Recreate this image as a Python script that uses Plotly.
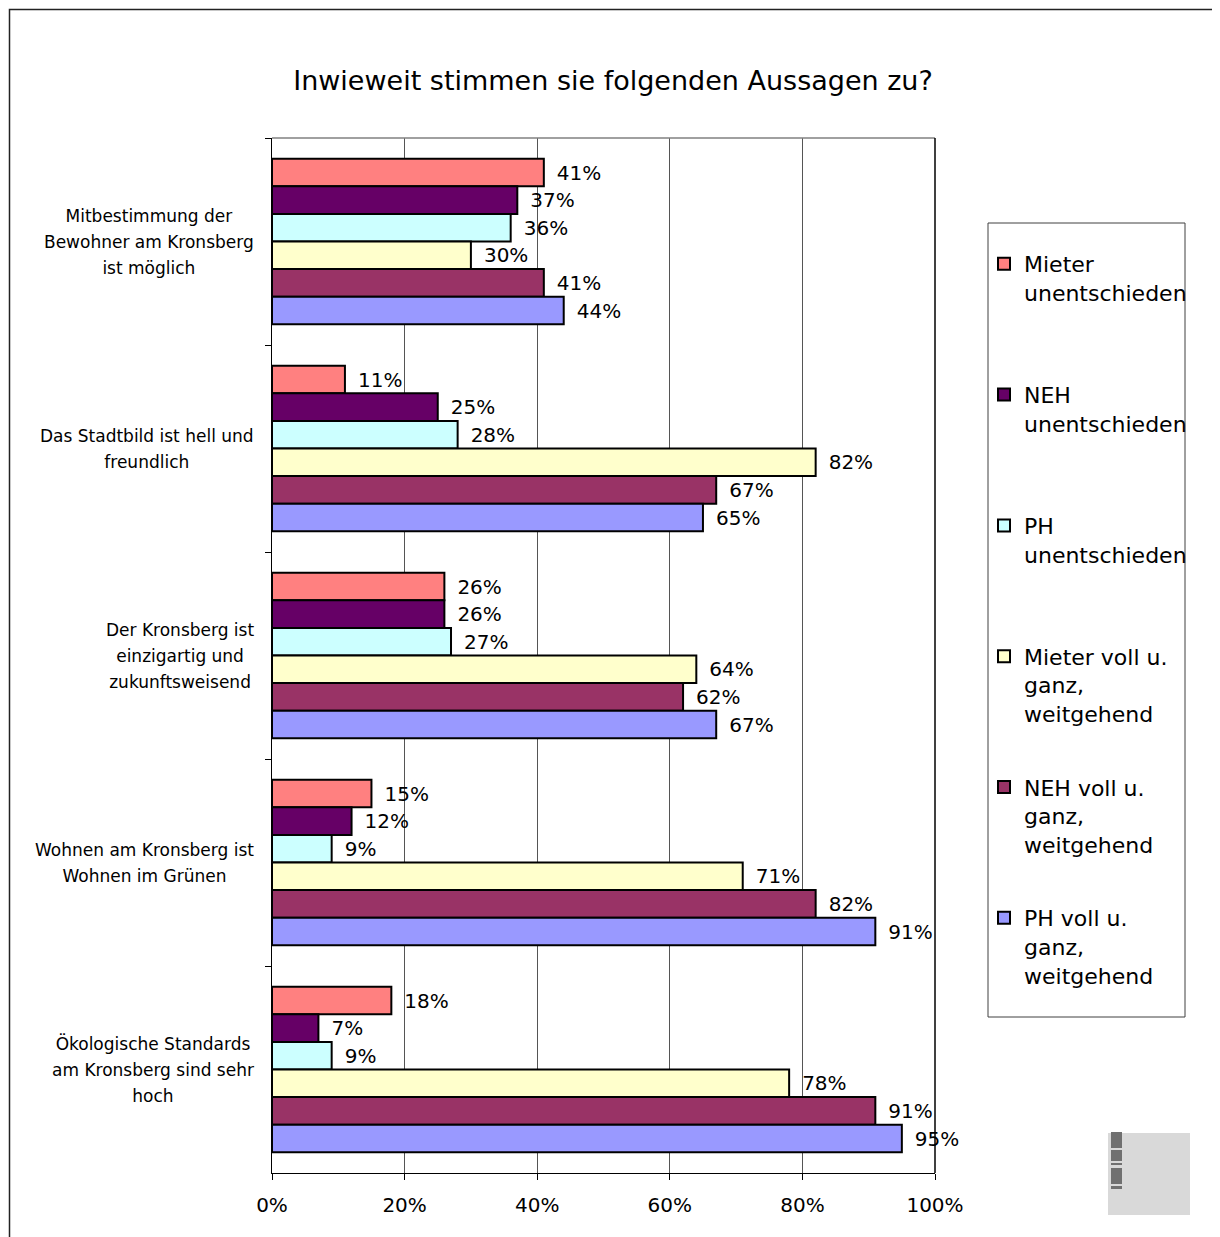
import plotly.graph_objects as go

# ---------------- data ----------------
categories = [
    "Mitbestimmung der<br>Bewohner am Kronsberg<br>ist möglich",
    "Das Stadtbild ist hell und<br>freundlich",
    "Der Kronsberg ist<br>einzigartig und<br>zukunftsweisend",
    "Wohnen am Kronsberg ist<br>Wohnen im Grünen",
    "Ökologische Standards<br>am Kronsberg sind sehr<br>hoch",
]
series_names = [
    "Mieter<br>unentschieden<br>\u00a0",
    "NEH<br>unentschieden<br>\u00a0",
    "PH<br>unentschieden<br>\u00a0",
    "Mieter voll u.<br>ganz,<br>weitgehend",
    "NEH voll u.<br>ganz,<br>weitgehend",
    "PH voll u.<br>ganz,<br>weitgehend",
]
mieter_unent = [41, 11, 26, 15, 18]
neh_unent = [37, 25, 26, 12, 7]
ph_unent = [36, 28, 27, 9, 9]
mieter_voll = [30, 82, 64, 71, 78]
neh_voll = [41, 67, 62, 82, 91]
ph_voll = [44, 65, 67, 91, 95]
series_values = [mieter_unent, neh_unent, ph_unent, mieter_voll, neh_voll, ph_voll]
colors = ["#FF8080", "#660066", "#CCFFFF", "#FFFFCC", "#993366", "#9999FF"]
x_ticks = [0, 20, 40, 60, 80, 100]
x_ticktext = ["0%", "20%", "40%", "60%", "80%", "100%"]
title = "Inwieweit stimmen sie folgenden Aussagen zu?"

FONT = "DejaVu Sans"
OFF = 8  # page body margin
W, H = 1220 - OFF, 1237 - OFF
L, R, T, B = 272, 935, 138, 1173  # target page-pixel positions of the plot area


def px(x):
    return (x - L) / (R - L)


def py(y):
    return (B - y) / (B - T)


fig = go.Figure()
for i, (name, vals, col) in enumerate(zip(series_names, series_values, colors)):
    fig.add_trace(go.Bar(
        y=categories, x=vals, orientation="h", name=name,
        legendgroup="g%d" % i,
        marker=dict(color=col, line=dict(color="black", width=2)),
        text=["\u2002%d%%" % v for v in vals],
        textposition="outside", cliponaxis=False, constraintext="none",
        textfont=dict(family=FONT, size=20, color="black"),
        hoverinfo="x+y",
    ))

shapes = [
    # outer frame (left and top edges visible)
    dict(type="rect", xref="paper", yref="paper", x0=px(OFF + 1.5), x1=px(1240), y0=py(1260), y1=py(OFF + 1.5),
         line=dict(color="#222222", width=1.5), layer="below"),
    # top border of plot area
    dict(type="line", xref="paper", yref="paper", x0=0, x1=1, y0=1, y1=1,
         line=dict(color="#808080", width=1.5)),
    # right border
    dict(type="line", xref="paper", yref="paper", x0=1, x1=1, y0=0, y1=1,
         line=dict(color="black", width=1.5)),
    # legend box
    dict(type="rect", xref="paper", yref="paper", x0=px(988), x1=px(1185), y0=py(1017), y1=py(223),
         line=dict(color="#404040", width=1)),
    # logo
    dict(type="rect", xref="paper", yref="paper", x0=px(1108), x1=px(1190), y0=py(1215), y1=py(1133),
         line=dict(width=0), fillcolor="#D9D9D9"),
]
for y0, y1 in [(1132, 1148), (1150, 1161), (1163, 1165), (1168, 1184), (1186, 1189)]:
    shapes.append(dict(type="rect", xref="paper", yref="paper", x0=px(1111), x1=px(1122),
                       y0=py(y1), y1=py(y0), line=dict(width=0), fillcolor="#707070"))

annotations = []
for c in categories:
    label = "<br>".join('<span style="font-size:17px">%s</span>' % ln for ln in c.split("<br>"))
    annotations.append(dict(
        x=0, xref="paper", y=c, yref="y", xanchor="right", yanchor="middle",
        xshift=-16, text=label, showarrow=False, align="center",
        font=dict(family=FONT, size=20, color="black"),
    ))

fig.update_layout(
    width=W, height=H,
    margin=dict(l=L - OFF, r=W - (R - OFF), t=T - OFF, b=H - (B - OFF), pad=0),
    paper_bgcolor="white", plot_bgcolor="white",
    barmode="group", bargap=0.2, bargroupgap=0,
    title=dict(text=title, x=(613 - OFF) / W, xref="container", xanchor="center",
               y=1 - (81 - OFF) / H, yref="container", yanchor="middle",
               font=dict(family=FONT, size=27, color="black")),
    font=dict(family=FONT, color="black"),
    xaxis=dict(range=[0, 100], tickmode="array", tickvals=x_ticks, ticktext=x_ticktext,
               showgrid=True, gridcolor="#555555", gridwidth=1,
               showline=True, linecolor="black", linewidth=1,
               ticks="outside", ticklen=6, tickcolor="black",
               zeroline=False, tickfont=dict(family=FONT, size=20, color="black"),
               ticklabelstandoff=8),
    yaxis=dict(type="category", categoryarray=categories, autorange="reversed",
               showticklabels=False, ticks="outside", tickson="boundaries",
               ticklen=6, tickcolor="black", showline=True, linecolor="black",
               linewidth=1, showgrid=False, zeroline=False),
    legend=dict(x=px(984), y=py(243), xanchor="left", yanchor="top",
                font=dict(family=FONT, size=22, color="black"),
                valign="top", traceorder="grouped", tracegroupgap=42,
                bgcolor="rgba(0,0,0,0)", borderwidth=0),
    shapes=shapes, annotations=annotations,
)

fig.write_html("out.html")
